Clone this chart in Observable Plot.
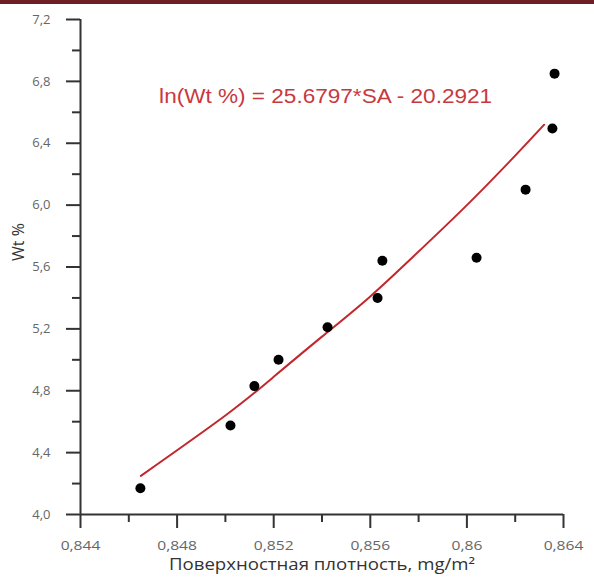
<!DOCTYPE html>
<html><head><meta charset="utf-8">
<script src="https://cdn.jsdelivr.net/npm/d3@7"></script>
<script src="https://cdn.jsdelivr.net/npm/@observablehq/plot@0.6"></script>
<style>
body{margin:0;background:#fff}
#bar{height:4px;background:#6e1f26}
</style>
</head><body><div id="bar"></div><div id="chart"></div>
<script>
// Measured points
const surfaceDensity = [0.84648, 0.85021, 0.8512, 0.8522, 0.85423, 0.8563, 0.8565, 0.8604, 0.86243, 0.86354, 0.86363];
const wtPercent      = [4.17,    4.575,   4.83,   5.00,   5.21,    5.40,   5.64,   5.66,   6.10,    6.495,   6.85];
// Fitted curve as drawn
const fitSA = [0.8465, 0.850, 0.852, 0.854, 0.856, 0.858, 0.860, 0.862, 0.8632];
const fitWt = [4.25,   4.64,  4.89,  5.15,  5.41,  5.70,  6.00,  6.32,  6.52];
// Axis ticks
const xMajor = [0.844, 0.848, 0.852, 0.856, 0.860, 0.864];
const xTickLabels = ["0,844", "0,848", "0,852", "0,856", "0,86", "0,864"];
const xMinor = [0.846, 0.850, 0.854, 0.858, 0.862];
const yMajor = [4.0, 4.4, 4.8, 5.2, 5.6, 6.0, 6.4, 6.8, 7.2];
const yTickLabels = ["4,0", "4,4", "4,8", "5,2", "5,6", "6,0", "6,4", "6,8", "7,2"];
const yMinor = [4.2, 4.6, 5.0, 5.4, 5.8, 6.2, 6.6, 7.0];
const equation = ["ln(Wt %) = 25.6797*SA - 20.2921"];
const equationAt = [{x: 0.85415, y: 6.70}];
const xTitle = ["Поверхностная плотность, mg/m²"];
const yTitle = ["Wt %"];

const points = surfaceDensity.map((x, i) => ({x, y: wtPercent[i]}));
const fit = fitSA.map((x, i) => ({x, y: fitWt[i]}));

const axisColor = "#333";

const chart = Plot.plot({
  width: 594,
  height: 576,
  marginTop: 15,
  marginBottom: 66,
  marginLeft: 80,
  marginRight: 31,
  style: {fontFamily: "Open Sans"},
  x: {domain: [0.844, 0.864], axis: null},
  y: {domain: [4.0, 7.2], axis: null},
  marks: [
    // ticks
    Plot.ruleX(xMajor, {x: d => d, y1: 4.0, y2: 4.0, insetBottom: -14, stroke: axisColor, strokeWidth: 2}),
    Plot.ruleY(yMajor, {y: d => d, x1: 0.844, x2: 0.844, insetLeft: -14, stroke: axisColor, strokeWidth: 2}),
    Plot.ruleX(xMinor, {x: d => d, y1: 4.0, y2: 4.0, insetBottom: -8, stroke: axisColor, strokeWidth: 2}),
    Plot.ruleY(yMinor, {y: d => d, x1: 0.844, x2: 0.844, insetLeft: -8, stroke: axisColor, strokeWidth: 2}),
    // axis lines
    Plot.ruleY([4.0], {stroke: axisColor, strokeWidth: 2}),
    Plot.ruleX([0.844], {stroke: axisColor, strokeWidth: 2}),
    // tick labels
    Plot.text(xMajor, {x: d => d, y: () => 4.0, dy: 31, text: (d, i) => xTickLabels[i], fontSize: 13, fill: "#666", className: "xtick"}),
    Plot.text(yMajor, {y: d => d, x: () => 0.844, dx: -30, textAnchor: "end", text: (d, i) => yTickLabels[i], fontSize: 13, fill: "#666"}),
    // axis titles
    Plot.text(xTitle, {frameAnchor: "bottom", dy: 55, text: d => d, fontSize: 15.5, fill: "#333", className: "xtitle"}),
    Plot.text(yTitle, {frameAnchor: "left", dx: -62, dy: -6, rotate: -90, text: d => d, fontSize: 16, fill: "#333"}),
    // fit + data
    Plot.line(fit, {x: "x", y: "y", curve: "natural", stroke: "#c1272d", strokeWidth: 2}),
    Plot.dot(points, {x: "x", y: "y", r: 5, fill: "#000", stroke: null}),
    Plot.text(equationAt, {x: "x", y: "y", text: () => equation[0], fontSize: 20,
      fill: "#c8393f", fontFamily: "Liberation Sans", className: "eqn"})
  ]
});
document.getElementById("chart").appendChild(chart);

// emulate the horizontally stretched lettering of the reference
function stretch(sel, target) {
  chart.querySelectorAll(sel).forEach(t => {
    const w = t.getComputedTextLength();
    const goal = typeof target === "function" ? target(w) : target;
    t.setAttribute("textLength", goal);
    t.setAttribute("lengthAdjust", "spacingAndGlyphs");
  });
}
stretch(".eqn text", 333);
stretch(".xtitle text", 306);
stretch(".xtick text", w => w * 1.2);
</script>
</body></html>
